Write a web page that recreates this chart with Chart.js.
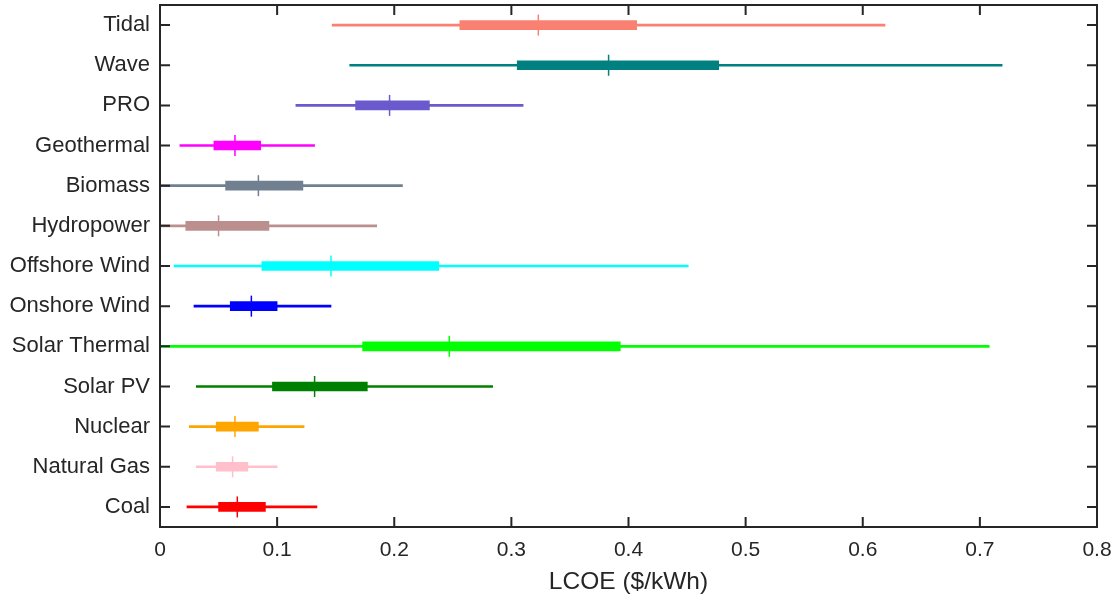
<!DOCTYPE html>
<html>
<head>
<meta charset="utf-8">
<script src="https://cdn.jsdelivr.net/npm/chart.js@4"></script>
<style>
  html, body { margin: 0; padding: 0; background: #fff; }
  #wrap { width: 1115px; height: 603px; }
</style>
</head>
<body>
<div id="wrap"><canvas id="lcoeChart" width="1115" height="603"></canvas></div>
<script>
// ── Data (LCOE, $/kWh) ───────────────────────────────
const techs    = ["Tidal", "Wave", "PRO", "Geothermal", "Biomass", "Hydropower", "Offshore Wind",
                  "Onshore Wind", "Solar Thermal", "Solar PV", "Nuclear", "Natural Gas", "Coal"];
const lowVals  = [0.147, 0.162, 0.116, 0.017, 0.000, 0.000, 0.012, 0.029, 0.000, 0.031, 0.025, 0.031, 0.023];
const q1Vals   = [0.256, 0.305, 0.167, 0.046, 0.056, 0.022, 0.087, 0.060, 0.173, 0.096, 0.048, 0.048, 0.050];
const medVals  = [0.323, 0.383, 0.196, 0.064, 0.084, 0.050, 0.146, 0.078, 0.247, 0.132, 0.064, 0.062, 0.066];
const q3Vals   = [0.407, 0.477, 0.230, 0.086, 0.122, 0.093, 0.238, 0.100, 0.393, 0.177, 0.084, 0.075, 0.090];
const highVals = [0.619, 0.719, 0.310, 0.132, 0.207, 0.185, 0.451, 0.146, 0.708, 0.284, 0.123, 0.100, 0.134];
const techColors = ["#FA8072", "#008080", "#6A5ACD", "#FF00FF", "#708090", "#BC8F8F", "#00FFFF",
                    "#0000FF", "#00FF00", "#008000", "#FFA500", "#FFC0CB", "#FF0000"];

const AXIS_COL = "#262626";
const FONT = "'Liberation Sans', Arial, Helvetica, sans-serif";

// inward ticks on all four sides + box frame (MATLAB style)
const boxAxes = {
    id: "boxAxes",
    afterDraw(chart) {
        const { ctx, chartArea: a, scales: { x, y } } = chart;
        const len = 10;
        ctx.save();
        ctx.strokeStyle = AXIS_COL;
        ctx.lineWidth = 2;
        ctx.beginPath();
        x.ticks.forEach(t => {
            const px = x.getPixelForValue(t.value);
            ctx.moveTo(px, a.bottom); ctx.lineTo(px, a.bottom - len);
            ctx.moveTo(px, a.top);    ctx.lineTo(px, a.top + len);
        });
        y.ticks.forEach((t, i) => {
            const py = y.getPixelForTick(i);
            ctx.moveTo(a.left, py);  ctx.lineTo(a.left + len, py);
            ctx.moveTo(a.right, py); ctx.lineTo(a.right - len, py);
        });
        ctx.stroke();
        ctx.strokeRect(a.left, a.top, a.right - a.left, a.bottom - a.top);
        ctx.restore();
    }
};

new Chart(document.getElementById("lcoeChart"), {
    type: "bar",
    data: {
        labels: techs,
        datasets: [
            {
                label: "range",
                indexAxis: "y",
                data: techs.map((_, i) => [lowVals[i], highVals[i]]),
                backgroundColor: techColors,
                barThickness: 2,
                grouped: false,
                order: 3,
            },
            {
                label: "iqr",
                indexAxis: "y",
                data: techs.map((_, i) => [q1Vals[i], q3Vals[i]]),
                backgroundColor: techColors,
                barThickness: 9,
                grouped: false,
                order: 2,
            },
            {
                label: "median",
                type: "line",
                data: techs.map((t, i) => ({ x: medVals[i], y: t })),
                showLine: false,
                pointStyle: "line",
                rotation: 90,
                pointRadius: 10.5,
                pointBorderWidth: 1.5,
                pointBorderColor: techColors,
                pointBackgroundColor: techColors,
                order: 1,
            },
        ],
    },
    options: {
        responsive: false,
        animation: false,
        layout: { autoPadding: false, padding: { top: 5, right: 18, left: 0, bottom: 0 } },
        plugins: { legend: { display: false }, tooltip: { enabled: false } },
        scales: {
            x: {
                type: "linear",
                position: "bottom",
                offset: false,
                min: 0, max: 0.8,
                grid: { display: false, drawTicks: false, offset: false },
                border: { display: false },
                ticks: {
                    stepSize: 0.1,
                    padding: 11,
                    color: AXIS_COL,
                    font: { family: FONT, size: 21 },
                    callback: v => String(+v.toFixed(1)),
                },
                title: {
                    display: true,
                    text: "LCOE ($/kWh)",
                    color: AXIS_COL,
                    font: { family: FONT, size: 24.5 },
                    padding: { top: 0, bottom: 6 },
                },
                afterFit: s => { s.height = 76; s.paddingLeft = 0; s.paddingRight = 0; },
            },
            y: {
                type: "category",
                position: "left",
                offset: true,
                grid: { display: false, drawTicks: false },
                border: { display: false },
                ticks: {
                    padding: 10,
                    color: AXIS_COL,
                    font: { family: FONT, size: 22 },
                },
                afterFit: s => { s.width = 160; s.paddingTop = 0; s.paddingBottom = 0; },
            },
        },
    },
    plugins: [boxAxes],
});
</script>
</body>
</html>
